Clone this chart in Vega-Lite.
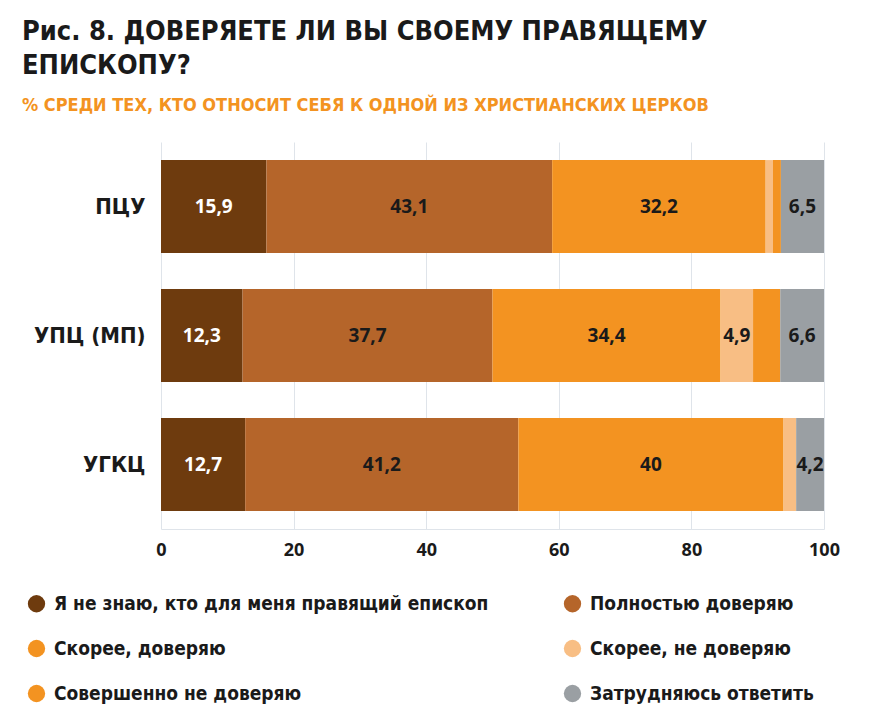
{
  "$schema": "https://vega.github.io/schema/vega-lite/v6.json",
  "autosize": {"type": "none"},
  "padding": {"left": 161, "top": 142, "right": 46, "bottom": 178},
  "width": 663,
  "height": 387,
  "background": "white",
  "config": {
    "view": {"stroke": null},
    "locale": {"number": {"decimal": ",", "thousands": " ", "grouping": [3], "currency": ["", ""]}}
  },
  "title": {
    "text": ["Рис. 8. ДОВЕРЯЕТЕ ЛИ ВЫ СВОЕМУ ПРАВЯЩЕМУ", "ЕПИСКОПУ?"],
    "subtitle": "% СРЕДИ ТЕХ, КТО ОТНОСИТ СЕБЯ К ОДНОЙ ИЗ ХРИСТИАНСКИХ ЦЕРКОВ",
    "anchor": "start",
    "frame": "group",
    "dx": -139,
    "offset": 26,
    "font": "Liberation Sans Narrow, DejaVu Sans Condensed, Roboto",
    "fontSize": 27,
    "fontWeight": "bold",
    "lineHeight": 34,
    "color": "#1a1a1a",
    "subtitleFont": "Liberation Sans Narrow, DejaVu Sans Condensed, Roboto",
    "subtitleFontSize": 18,
    "subtitleFontWeight": "bold",
    "subtitleColor": "#F39321",
    "subtitlePadding": 17
  },
  "data": {
    "values": [
      {"church": "ПЦУ", "answer": "Я не знаю, кто для меня правящий епископ", "k": 0, "value": 15.9},
      {"church": "ПЦУ", "answer": "Полностью доверяю", "k": 1, "value": 43.1},
      {"church": "ПЦУ", "answer": "Скорее, доверяю", "k": 2, "value": 32.2},
      {"church": "ПЦУ", "answer": "Скорее, не доверяю", "k": 3, "value": 1.1},
      {"church": "ПЦУ", "answer": "Совершенно не доверяю", "k": 4, "value": 1.2},
      {"church": "ПЦУ", "answer": "Затрудняюсь ответить", "k": 5, "value": 6.5},
      {"church": "УПЦ (МП)", "answer": "Я не знаю, кто для меня правящий епископ", "k": 0, "value": 12.3},
      {"church": "УПЦ (МП)", "answer": "Полностью доверяю", "k": 1, "value": 37.7},
      {"church": "УПЦ (МП)", "answer": "Скорее, доверяю", "k": 2, "value": 34.4},
      {"church": "УПЦ (МП)", "answer": "Скорее, не доверяю", "k": 3, "value": 4.9},
      {"church": "УПЦ (МП)", "answer": "Совершенно не доверяю", "k": 4, "value": 4.1},
      {"church": "УПЦ (МП)", "answer": "Затрудняюсь ответить", "k": 5, "value": 6.6},
      {"church": "УГКЦ", "answer": "Я не знаю, кто для меня правящий епископ", "k": 0, "value": 12.7},
      {"church": "УГКЦ", "answer": "Полностью доверяю", "k": 1, "value": 41.2},
      {"church": "УГКЦ", "answer": "Скорее, доверяю", "k": 2, "value": 40},
      {"church": "УГКЦ", "answer": "Скорее, не доверяю", "k": 3, "value": 1.9},
      {"church": "УГКЦ", "answer": "Совершенно не доверяю", "k": 4, "value": 0},
      {"church": "УГКЦ", "answer": "Затрудняюсь ответить", "k": 5, "value": 4.2}
    ]
  },
  "transform": [
    {"stack": "value", "groupby": ["church"], "sort": [{"field": "k", "order": "ascending"}], "as": ["v0", "v1"]},
    {"calculate": "(datum.v0 + datum.v1) / 2", "as": "mid"}
  ],
  "encoding": {
    "y": {
      "field": "church",
      "type": "nominal",
      "sort": ["ПЦУ", "УПЦ (МП)", "УГКЦ"],
      "scale": {"paddingInner": 0.28, "paddingOuter": 0.14},
      "axis": {
        "title": null,
        "ticks": false,
        "domain": false,
        "labelPadding": 16,
        "labelFont": "Liberation Sans Narrow, DejaVu Sans Condensed, Roboto",
        "labelFontSize": 22,
        "labelFontWeight": "bold",
        "labelColor": "#1a1a1a"
      }
    }
  },
  "layer": [
    {
      "mark": {"type": "bar"},
      "encoding": {
        "x": {
          "field": "v0",
          "type": "quantitative",
          "scale": {"domain": [0, 100], "nice": false},
          "axis": {
            "title": null,
            "values": [0, 20, 40, 60, 80, 100],
            "ticks": false,
            "domain": true,
            "domainColor": "#dfe4ea",
            "gridColor": "#dfe4ea",
            "labelFlush": false,
            "labelPadding": 12,
            "labelFont": "Open Sans",
            "labelFontSize": 18,
            "labelFontWeight": "bold",
            "labelColor": "#1a1a1a"
          }
        },
        "x2": {"field": "v1"},
        "color": {
          "field": "answer",
          "type": "nominal",
          "scale": {
            "domain": ["Я не знаю, кто для меня правящий епископ", "Полностью доверяю", "Скорее, доверяю", "Скорее, не доверяю", "Совершенно не доверяю", "Затрудняюсь ответить"],
            "range": ["#6E3B0E", "#B5652A", "#F39321", "#F8BE84", "#F39321", "#9A9FA3"]
          },
          "legend": {
            "title": null,
            "orient": "none",
            "legendX": -134,
            "legendY": 452,
            "direction": "horizontal",
            "columns": 2,
            "columnPadding": 74,
            "rowPadding": 25,
            "symbolType": "circle",
            "symbolSize": 300,
            "symbolStrokeWidth": 0,
            "labelFont": "Liberation Sans Narrow, DejaVu Sans Condensed, Roboto",
            "labelFontSize": 19,
            "labelFontWeight": "bold",
            "labelColor": "#1a1a1a",
            "labelLimit": 500,
            "labelOffset": 8
          }
        }
      }
    },
    {
      "transform": [{"filter": "datum.value >= 4.2"}],
      "mark": {"type": "text", "font": "Open Sans", "fontSize": 19, "fontWeight": "bold"},
      "encoding": {
        "x": {"field": "mid", "type": "quantitative"},
        "text": {"field": "value", "type": "quantitative", "format": "~g"},
        "color": {
          "condition": {"test": "datum.k == 0", "value": "white"},
          "value": "#1a1a1a"
        }
      }
    }
  ]
}
